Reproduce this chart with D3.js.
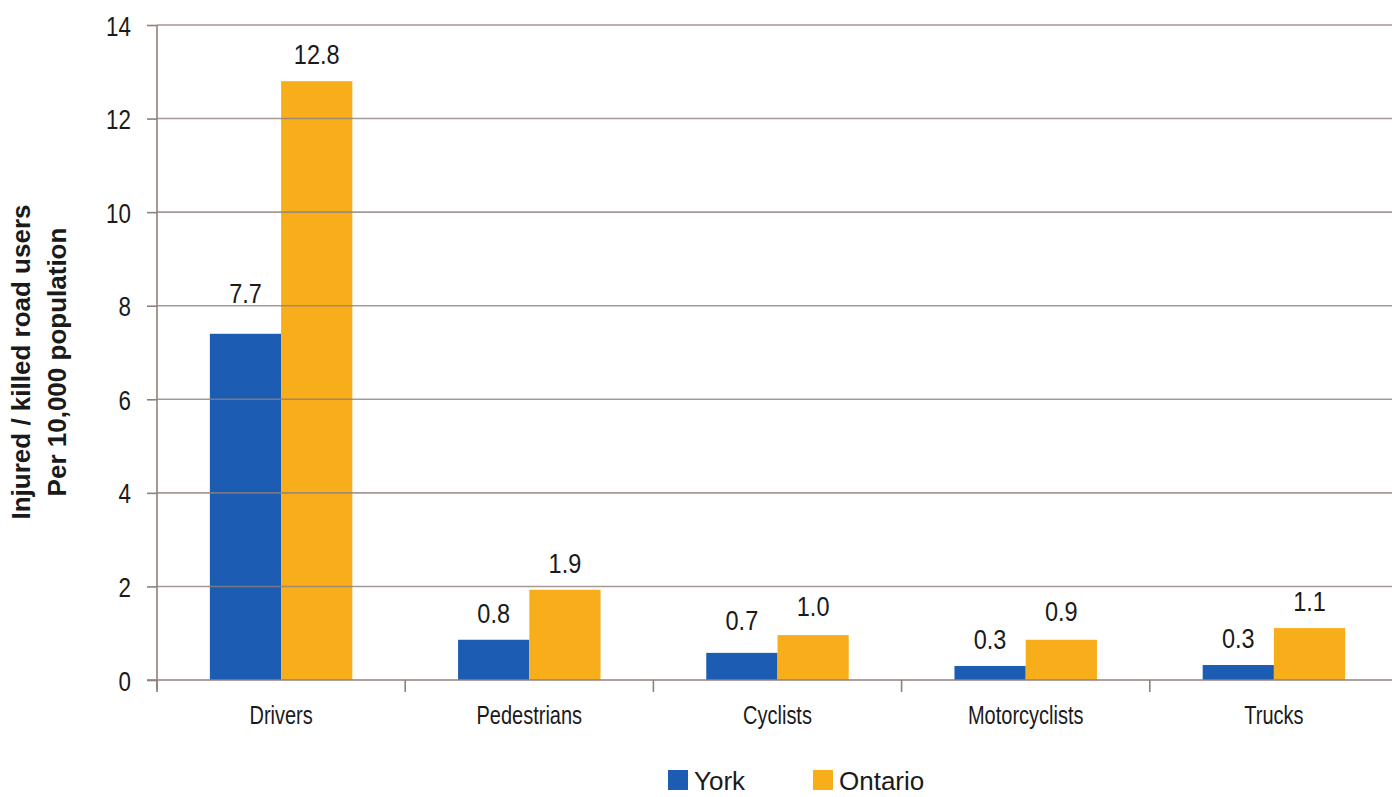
<!DOCTYPE html>
<html>
<head>
<meta charset="utf-8">
<script src="https://cdn.jsdelivr.net/npm/d3@7"></script>
<style>
  html, body { margin: 0; padding: 0; background: #ffffff; }
  svg { display: block; }
  .sans { font-family: "Liberation Sans", Arial, sans-serif; }
</style>
</head>
<body>
<svg id="chart" width="1392" height="797"></svg>
<script>
const categories = ["Drivers", "Pedestrians", "Cyclists", "Motorcyclists", "Trucks"];
const seriesNames = ["York", "Ontario"];
const yorkValues = [7.4, 0.86, 0.58, 0.30, 0.32];
const ontarioValues = [12.8, 1.93, 0.96, 0.86, 1.11];
const yorkLabels = ["7.7", "0.8", "0.7", "0.3", "0.3"];
const ontarioLabels = ["12.8", "1.9", "1.0", "0.9", "1.1"];
const yTicks = [0, 2, 4, 6, 8, 10, 12, 14];
const yTitleLines = ["Injured / killed road users", "Per 10,000 population"];
const colors = ["#1c5db3", "#f8ae1b"];

const svg = d3.select("#chart");
const plotLeft = 157, plotRight = 1398, plotTop = 25, plotBottom = 680;
const narrow = 0.8;

const x0 = d3.scaleBand().domain(categories).range([plotLeft, plotRight]).paddingInner(0).paddingOuter(0);
const barW = x0.bandwidth() * 0.287;
const x1 = d3.scaleBand().domain(seriesNames).range([-barW, barW]).padding(0);
const y = d3.scaleLinear().domain([0, 14]).range([plotBottom, plotTop]);

const data = categories.map((c, i) => ({
  cat: c,
  bars: [
    { s: "York", v: yorkValues[i], label: yorkLabels[i] },
    { s: "Ontario", v: ontarioValues[i], label: ontarioLabels[i] }
  ]
}));

// bars
const groups = svg.append("g").selectAll("g").data(data).join("g")
  .attr("transform", d => `translate(${x0(d.cat) + x0.bandwidth() / 2},0)`);
groups.selectAll("rect").data(d => d.bars).join("rect")
  .attr("x", d => x1(d.s))
  .attr("width", x1.bandwidth())
  .attr("y", d => y(d.v))
  .attr("height", d => y(0) - y(d.v))
  .attr("fill", (d, i) => colors[i]);

// gridlines (drawn over bars)
const gridColor = "#8f807a";
svg.append("g").selectAll("line").data(yTicks.filter(t => t > 0)).join("line")
  .attr("x1", plotLeft).attr("x2", 1392)
  .attr("y1", d => y(d)).attr("y2", d => y(d))
  .attr("stroke", gridColor).attr("stroke-width", 1.6).attr("stroke-opacity", 0.8);

// y axis
const yAxis = d3.axisLeft(y).tickValues(yTicks).tickSize(10).tickFormat(d3.format("d"));
const ya = svg.append("g").attr("transform", `translate(${plotLeft},0)`).call(yAxis);
ya.select(".domain").remove();
ya.selectAll(".tick line").attr("stroke", gridColor).attr("stroke-width", 1.6);
ya.selectAll(".tick text").remove();
ya.selectAll(".tick").append("g")
  .attr("transform", `translate(-26,0) scale(${narrow},1)`)
  .append("text").attr("class", "sans")
  .attr("text-anchor", "end").attr("dy", "0.36em")
  .attr("font-size", 28).attr("fill", "#1a1a1a")
  .text(d => d3.format("d")(d));
svg.append("line").attr("x1", plotLeft).attr("x2", plotLeft).attr("y1", plotTop).attr("y2", plotBottom + 10)
  .attr("stroke", gridColor).attr("stroke-width", 1.6);

// x axis
svg.append("line").attr("x1", plotLeft - 10).attr("x2", 1392).attr("y1", plotBottom).attr("y2", plotBottom)
  .attr("stroke", gridColor).attr("stroke-width", 1.6);
const boundaries = categories.map(c => x0(c)).concat([plotRight]);
svg.append("g").selectAll("line").data(boundaries).join("line")
  .attr("x1", d => d).attr("x2", d => d).attr("y1", plotBottom).attr("y2", plotBottom + 12)
  .attr("stroke", gridColor).attr("stroke-width", 1.6);
svg.append("g").selectAll("g").data(categories).join("g")
  .attr("transform", d => `translate(${x0(d) + x0.bandwidth() / 2},724) scale(${narrow},1)`)
  .append("text").attr("class", "sans")
  .attr("text-anchor", "middle")
  .attr("font-size", 25)
  .attr("fill", "#1a1a1a")
  .text(d => d);

// value labels
groups.selectAll("g.lbl").data(d => d.bars).join("g").attr("class", "lbl")
  .attr("transform", d => `translate(${x1(d.s) + x1.bandwidth() / 2},${y(Math.max(d.v, +d.label)) - 17}) scale(0.84,1)`)
  .append("text").attr("class", "sans")
  .attr("text-anchor", "middle")
  .attr("font-size", 28)
  .attr("fill", "#1a1a1a")
  .text(d => d.label);

// y title
const yt = svg.append("text").attr("class", "sans")
  .attr("transform", "translate(0,362) rotate(-90)")
  .attr("text-anchor", "middle").attr("font-weight", "bold").attr("font-size", 26).attr("fill", "#1a1a1a");
yt.selectAll("tspan").data(yTitleLines).join("tspan")
  .attr("x", 0).attr("y", (d, i) => 30 + i * 36)
  .text(d => d);

// legend
const legendX = [668, 813];
const lg = svg.append("g").selectAll("g").data(seriesNames).join("g")
  .attr("transform", (d, i) => `translate(${legendX[i]},0)`);
lg.append("rect").attr("x", 0).attr("y", 770).attr("width", 20).attr("height", 20).attr("fill", (d, i) => colors[i]);
lg.append("text").attr("class", "sans").attr("x", 26).attr("y", 790)
  .attr("font-size", 26).attr("fill", "#1a1a1a").text(d => d);
</script>
</body>
</html>
